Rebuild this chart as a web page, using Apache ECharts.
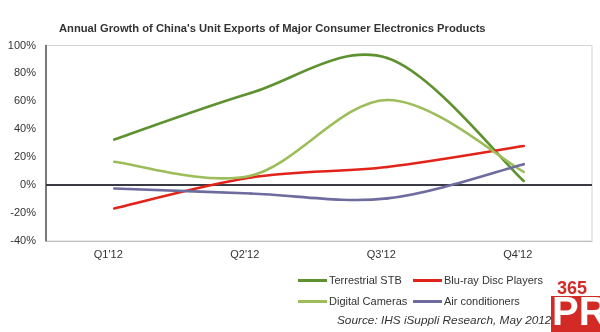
<!DOCTYPE html>
<html><head><meta charset="utf-8">
<script src="https://cdn.jsdelivr.net/npm/echarts@6/dist/echarts.min.js"></script>
<style>html,body{margin:0;padding:0;background:#fff}#c{width:600px;height:332px}</style>
</head><body><div id="c"></div>
<script>
const categories = ["Q1'12", "Q2'12", "Q3'12", "Q4'12"];
const terrestrialSTB = [32.7, 66, 91, 3];
const bluRay = [-16.7, 5.5, 13, 28];
const digitalCameras = [16.7, 6.8, 61, 9.5];
const airConditioners = [-2.4, -6, -9.5, 15];
const yTicks = [-40, -20, 0, 20, 40, 60, 80, 100];

const names = ['Terrestrial STB', 'Blu-ray Disc Players', 'Digital Cameras', 'Air conditioners'];
const colors = ['#5e9130', '#e2231a', '#9cbd5a', '#6e6c9e'];
const values = [terrestrialSTB, bluRay, digitalCameras, airConditioners];

const chart = echarts.init(document.getElementById('c'), null, {renderer: 'canvas'});
const font = 'Liberation Sans, Arial, sans-serif';
const legendPos = [[298, 275], [413, 275], [298, 296], [413, 296]];

// Excel-style smoothed line: Catmull-Rom segments computed from axis coordinates
function makeRender(arr, color) {
  return function (params, api) {
    const i = params.dataIndex;
    if (i >= arr.length - 1) return null;
    const clamp = j => Math.max(0, Math.min(arr.length - 1, j));
    const P = j => api.coord([clamp(j), arr[clamp(j)]]);
    const p0 = P(i - 1), p1 = P(i), p2 = P(i + 1), p3 = P(i + 2);
    return {
      type: 'bezierCurve',
      shape: {
        x1: p1[0], y1: p1[1], x2: p2[0], y2: p2[1],
        cpx1: p1[0] + (p2[0] - p0[0]) / 6, cpy1: p1[1] + (p2[1] - p0[1]) / 6,
        cpx2: p2[0] - (p3[0] - p1[0]) / 6, cpy2: p2[1] - (p3[1] - p1[1]) / 6
      },
      style: {stroke: color, lineWidth: 2.6, fill: null, lineCap: 'round'}
    };
  };
}

const series = names.map((n, i) => ({
  name: n, type: 'custom',
  data: values[i].map((v, k) => [k, v]),
  encode: {x: 0, y: 1},
  renderItem: makeRender(values[i], colors[i]),
  itemStyle: {color: colors[i]},
  z: i === 0 ? 4 : 5
}));
series.push({
  type: 'line', data: [], silent: true,
  markLine: {
    silent: true, symbol: 'none', label: {show: false},
    lineStyle: {color: '#3a3a44', width: 2, type: 'solid'},
    data: [{yAxis: 0}]
  }, z: 1
});

chart.setOption({
  animation: false,
  title: {
    text: "Annual Growth of China's Unit Exports of Major Consumer Electronics Products",
    left: 54, top: 18,
    textStyle: {fontFamily: font, fontSize: 11.2, fontWeight: 'bold', color: '#333'}
  },
  legend: names.map((n, i) => ({
    data: [n], left: legendPos[i][0], top: legendPos[i][1],
    itemWidth: 29, itemHeight: 3, itemGap: 4, padding: 0,
    icon: 'rect',
    textStyle: {fontFamily: font, fontSize: 11, color: '#333', padding: [0, 0, 0, -3]}
  })),
  grid: {left: 46, right: 8, top: 45.5, bottom: 91, show: true, borderColor: '#d4d4d4', borderWidth: 1},
  xAxis: {
    type: 'category', data: categories, boundaryGap: true,
    axisLine: {show: true, onZero: false, lineStyle: {color: '#bdbdbd', width: 1}},
    axisTick: {show: false},
    axisLabel: {fontFamily: font, fontSize: 11, color: '#333', margin: 8, padding: [0, 12, 0, 0]}
  },
  yAxis: {
    type: 'value', min: yTicks[0], max: yTicks[yTicks.length - 1], interval: 20,
    axisLine: {show: true, lineStyle: {color: '#555', width: 1.5}},
    axisTick: {show: false},
    splitLine: {show: false},
    axisLabel: {fontFamily: font, fontSize: 11, color: '#333', margin: 10, formatter: v => v + '%'}
  },
  series: series,
  graphic: [
    {type: 'text', left: 337, top: 315,
     style: {text: 'Source: IHS iSuppli Research, May 2012', font: 'italic 11.8px Liberation Sans, Arial, sans-serif', fill: '#333'}},
    {type: 'rect', left: 551, top: 296, shape: {width: 49, height: 36}, style: {fill: '#d42a26'}},
    {type: 'text', left: 557, top: 280, style: {text: '365', font: 'bold 18px Liberation Sans, Arial, sans-serif', fill: '#d42a26'}},
    {type: 'text', left: 552, top: 294, style: {text: 'PR', font: 'bold 40px Liberation Sans, Arial, sans-serif', fill: '#fff'}}
  ]
});
</script></body></html>
